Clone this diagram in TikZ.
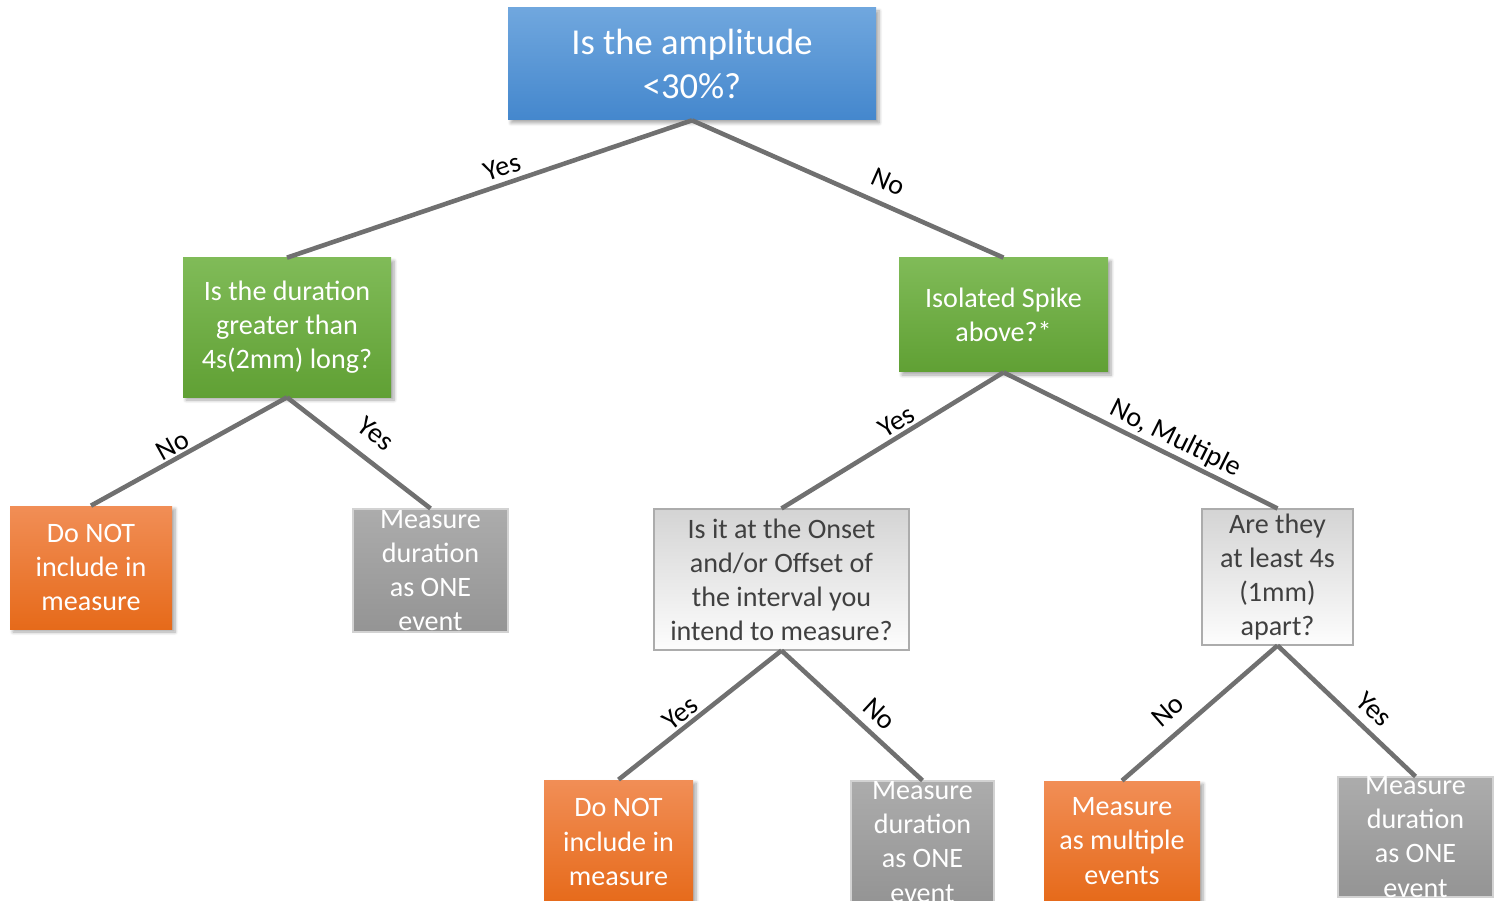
\documentclass[tikz,border=0pt]{standalone}
\usepackage{fontspec}
\setmainfont{Carlito}
\usetikzlibrary{positioning,shadows.blur}

\definecolor{blueTop}{RGB}{112,167,222}
\definecolor{blueBot}{RGB}{68,135,205}
\definecolor{greenTop}{RGB}{128,187,88}
\definecolor{greenBot}{RGB}{96,160,52}
\definecolor{orangeTop}{RGB}{241,142,86}
\definecolor{orangeBot}{RGB}{230,106,26}
\definecolor{greyTop}{RGB}{172,172,172}
\definecolor{greyBot}{RGB}{148,148,148}
\definecolor{lightTop}{RGB}{212,212,212}
\definecolor{lightBot}{RGB}{253,253,253}
\definecolor{branchCol}{RGB}{112,112,112}
\definecolor{qText}{RGB}{64,64,64}

\begin{document}
\begin{tikzpicture}[
  font=\fontsize{16}{19.4}\selectfont,
  box/.style={rectangle, align=center, inner sep=2pt},
  shad/.style={blur shadow={shadow xshift=0.6mm, shadow yshift=-0.6mm,
               shadow blur steps=6, shadow opacity=35}},
  root/.style={box, shad, shading=axis, top color=blueTop, bottom color=blueBot,
               text=white, font=\fontsize{20.8}{25}\selectfont},
  quest/.style={box, shad, shading=axis, top color=greenTop, bottom color=greenBot,
                text=white},
  sub/.style={box, draw=gray!65, line width=0.6pt, shading=axis,
              top color=lightTop, bottom color=lightBot, text=qText},
  stop/.style={box, shad, shading=axis, top color=orangeTop, bottom color=orangeBot,
               text=white},
  one/.style={box, draw=gray!35, line width=0.6pt, shading=axis,
              top color=greyTop, bottom color=greyBot},
  onetxt/.style={align=center, text=white, inner sep=0pt},
  arr/.style={line width=2.6pt, color=branchCol},
  lab/.style={sloped, above=2pt, inner sep=1pt, text=black},
]
\useasboundingbox (0,0) rectangle (30.02,-18.02);

% top question
\node[root, minimum width=7.36cm, minimum height=2.24cm] (amp) at (13.84,-1.28) {Is the amplitude\\<30\%?};

% second level
\node[quest, minimum width=4.16cm, minimum height=2.78cm] (dur) at (5.74,-6.55) {Is the duration\\greater than\\4s(2mm) long?};
\node[quest, minimum width=4.18cm, minimum height=2.28cm] (spike) at (20.07,-6.30) {Isolated Spike\\above?*};

% third level
\node[stop, minimum width=3.24cm, minimum height=2.46cm] (notA) at (1.82,-11.35) {Do NOT\\include in\\measure};
\node[one, minimum width=3.10cm, minimum height=2.46cm,
      label={[onetxt]center:Measure\\duration\\as ONE\\event}] (oneA) at (8.61,-11.41) {};
\node[sub, minimum width=5.10cm, minimum height=2.82cm] (onset) at (15.63,-11.59) {Is it at the Onset\\and/or Offset of\\the interval you\\intend to measure?};
\node[sub, minimum width=3.02cm, minimum height=2.72cm] (apart) at (25.55,-11.54) {Are they\\at least 4s\\(1mm)\\apart?};

% bottom level
\node[stop, minimum width=2.98cm, minimum height=2.48cm] (notB) at (12.37,-16.84) {Do NOT\\include in\\measure};
\node[one, minimum width=2.86cm, minimum height=2.44cm,
      label={[onetxt]center:Measure\\duration\\as ONE\\event}] (oneB) at (18.45,-16.84) {};
\node[stop, minimum width=3.12cm, minimum height=2.40cm] (multi) at (22.44,-16.82) {Measure\\as multiple\\events};
\node[one, minimum width=3.10cm, minimum height=2.40cm,
      label={[onetxt]center:Measure\\duration\\as ONE\\event}] (oneC) at (28.31,-16.74) {};

% branches
\draw[arr] (amp.south) -- node[lab, pos=.455]{Yes} (dur.north);
\draw[arr] (amp.south) -- node[lab, pos=.60, above=5.5pt]{No} (spike.north);
\draw[arr] (dur.south) -- node[lab, pos=.55, above=0pt]{No} (notA.north);
\draw[arr] (dur.south) -- node[lab, pos=.51, above=7pt]{Yes} (oneA.north);
\draw[arr] (spike.south) -- node[lab, pos=.45, above=0.5pt]{Yes} (onset.north);
\draw[arr] (spike.south) -- node[lab, pos=.60, above=0.5pt]{No, Multiple} (apart.north);
\draw[arr] (onset.south) -- node[lab, pos=.57, above=0.5pt]{Yes} (notB.north);
\draw[arr] (onset.south) -- node[lab, pos=.60, above=4pt]{No} (oneB.north);
\draw[arr] (apart.south) -- node[lab, pos=.61, above=5.5pt]{No} (multi.north);
\draw[arr] (apart.south) -- node[lab, pos=.60, above=4pt]{Yes} (oneC.north);
\end{tikzpicture}
\end{document}
